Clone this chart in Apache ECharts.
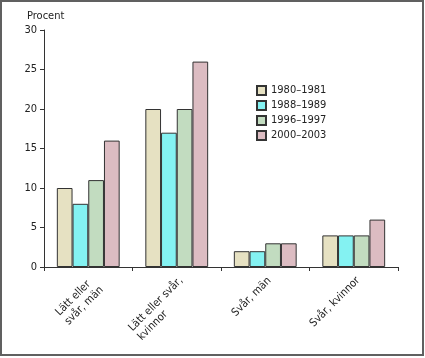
<!DOCTYPE html>
<html><head><meta charset="utf-8">
<script src="https://cdn.jsdelivr.net/npm/echarts@6/dist/echarts.min.js"></script>
<style>
html,body{margin:0;padding:0;background:#fff;}
#frame{position:absolute;left:0px;top:0px;width:420px;height:352px;border:2px solid #606060;}
#c{position:absolute;left:0;top:0;width:425px;height:358px;}
</style></head>
<body>
<div id="frame"></div>
<div id="c"></div>
<script>
var categories = ["Lätt eller\nsvår, män", "Lätt eller svår,\nkvinnor", "Svår, män", "Svår, kvinnor"];
var seriesNames = ["1980–1981", "1988–1989", "1996–1997", "2000–2003"];
var s1980 = [10, 20, 2, 4];
var s1988 = [8, 17, 2, 4];
var s1996 = [11, 20, 3, 4];
var s2000 = [16, 26, 3, 6];
var yTicks = [0, 5, 10, 15, 20, 25, 30];
var colors = ["#e6e1c2", "#84f2f2", "#c2dcc0", "#dcbcc2"];
var font = "'DejaVu Sans Condensed', sans-serif";
var fs = 11;

// measure label lines so multi-line labels are left-aligned within their block
var cv = document.createElement('canvas').getContext('2d');
cv.font = fs + "px 'DejaVu Sans Condensed'";
var rich = {};
categories.forEach(function(c, i){
  var w = 0;
  c.split('\n').forEach(function(l){ w = Math.max(w, cv.measureText(l).width); });
  rich['w' + i] = {width: Math.ceil(w), align:'left', fontFamily:font, fontSize:fs, color:'#222', lineHeight:13};
});

var data = [s1980, s1988, s1996, s2000];
var chart = echarts.init(document.getElementById('c'), null, {renderer:'canvas'});
chart.setOption({
  animation:false,
  textStyle:{fontFamily:font},
  grid:{left:44, right:27, top:30, bottom:91, containLabel:false},
  legend:{
    orient:'vertical', left:256, top:85, itemWidth:9, itemHeight:9, itemGap:4, padding:0,
    icon:'rect',
    textStyle:{fontFamily:font, fontSize:fs, color:'#222', lineHeight:10},
    data:seriesNames
  },
  xAxis:{
    type:'category', data:categories,
    axisLine:{lineStyle:{color:'#333', width:1}},
    axisTick:{show:true, length:4, lineStyle:{color:'#333'}},
    axisLabel:{
      rotate:45, fontFamily:font, fontSize:fs, color:'#222', margin:7, lineHeight:13,
      align:'right', verticalAlign:'top',
      formatter:function(v, idx){
        return v.split('\n').map(function(l){ return '{w' + idx + '|' + l + '}'; }).join('\n');
      },
      rich:rich
    }
  },
  yAxis:{
    type:'value', min:yTicks[0], max:yTicks[yTicks.length-1], interval:yTicks[1]-yTicks[0],
    name:'Procent', nameLocation:'end', nameGap:8,
    nameTextStyle:{fontFamily:font, fontSize:fs, color:'#222', align:'left', padding:[0,0,0,-17]},
    axisLine:{show:true, lineStyle:{color:'#333', width:1}},
    axisTick:{show:true, length:4, lineStyle:{color:'#333'}},
    axisLabel:{fontFamily:font, fontSize:fs, color:'#222', margin:7},
    splitLine:{show:false}
  },
  series: seriesNames.map(function(n,i){
    return {
      name:n, type:'bar', data:data[i],
      barGap:'0%', barCategoryGap:'29%',
      itemStyle:{color:colors[i], borderColor:'#333', borderWidth:1}
    };
  })
});
</script>
</body></html>
